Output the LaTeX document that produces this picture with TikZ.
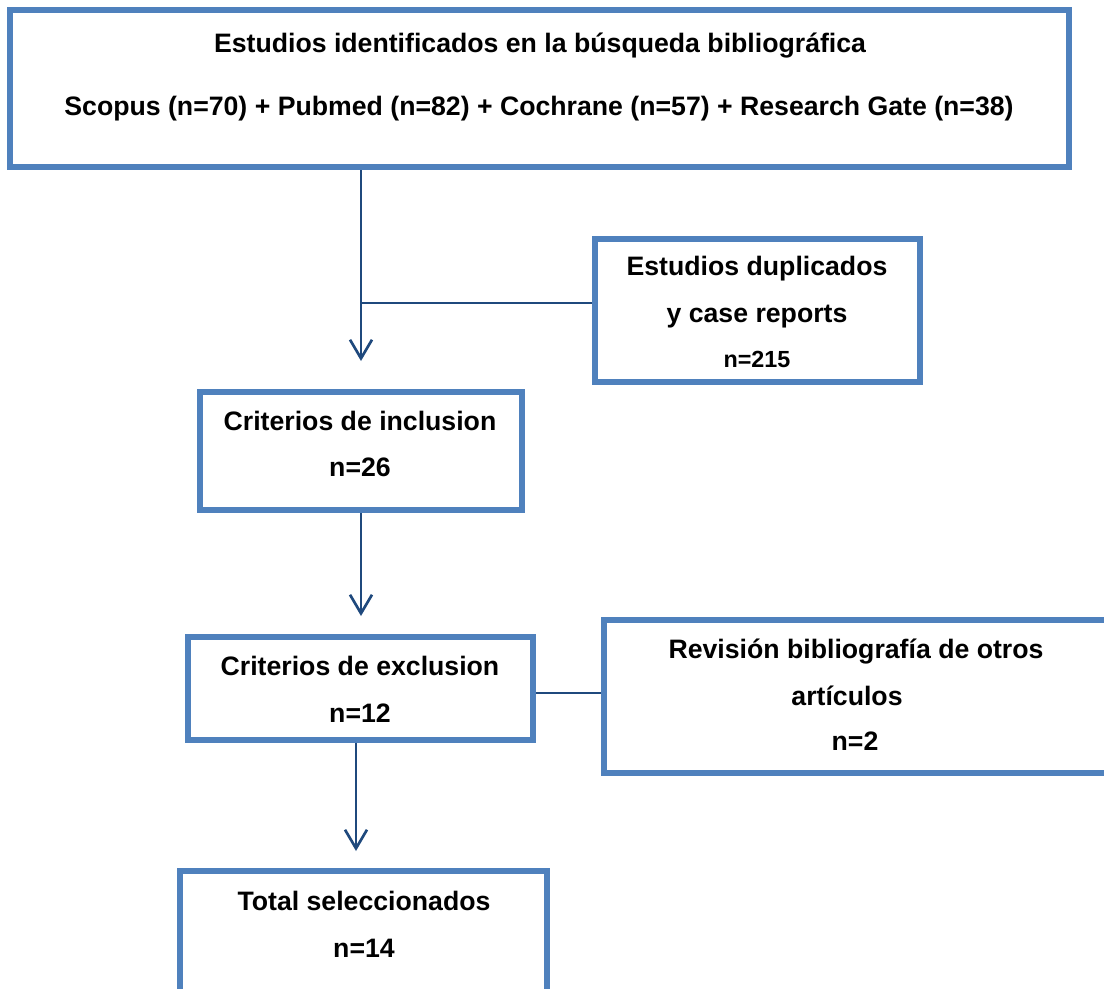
\documentclass[tikz,border=0pt]{standalone}
\usepackage{fontspec}
\setmainfont{Liberation Sans}
\usetikzlibrary{arrows.meta}

\definecolor{boxblue}{RGB}{79,129,189}
\definecolor{lineblue}{RGB}{31,73,125}

\tikzset{
    box/.style={draw=boxblue, line width=4.5pt, rectangle, inner sep=0pt},
    txt/.style={anchor=base, inner sep=0pt, font=\fontsize{20}{24}\selectfont\bfseries},
    small/.style={txt, font=\fontsize{17.5}{21}\selectfont\bfseries},
    conn/.style={draw=lineblue, line width=2pt},
    arr/.style={conn, -{Straight Barb[length=14pt, width=16.5pt]}}
}

\begin{document}
\begin{tikzpicture}[x=0.75pt, y=-0.75pt]
        \useasboundingbox (0,0) rectangle (1104,989);

        \node[box, minimum width=794pt, minimum height=118pt] (ident) at (539.5,88.5) {};
        \node[box, minimum width=244pt, minimum height=107pt] (dup) at (757.5,310.5) {};
        \node[box, minimum width=241.5pt, minimum height=88.5pt] (incl) at (361,451) {};
        \node[box, minimum width=259pt, minimum height=77pt] (excl) at (360.5,688.5) {};
        \node[box, minimum width=378pt, minimum height=115pt] (rev) at (856,696.5) {};
        \node[box, minimum width=275pt, minimum height=97pt] (total) at (363.5,935.5) {};

        \node[txt] (identa) at (540,52) {Estudios identificados en la búsqueda bibliográfica};
        \node[txt] (identb) at (539,115) {Scopus (n=70) + Pubmed (n=82) + Cochrane (n=57) + Research Gate (n=38)};

        \node[txt] (dupa) at (757,275) {Estudios duplicados};
        \node[txt] (dupb) at (757,322) {y case reports};
        \node[small] (dupc) at (757,367) {n=215};

        \node[txt] (incla) at (360,430) {Criterios de inclusion};
        \node[txt] (inclb) at (360,476) {n=26};

        \node[txt] (excla) at (360,675) {Criterios de exclusion};
        \node[txt] (exclb) at (360,722) {n=12};

        \node[txt] (reva) at (856,658) {Revisión bibliografía de otros};
        \node[txt] (revb) at (847,705) {artículos};
        \node[txt] (revc) at (855,750) {n=2};

        \node[txt] (totala) at (364,910) {Total seleccionados};
        \node[txt] (totalb) at (364,957) {n=14};

        \coordinate (t1) at (361,361);
        \coordinate (j1) at (361,303);
        \coordinate (t2) at (361,616);
        \coordinate (t3) at (356,851);
        \coordinate (j2) at (570,693);

        \draw[arr] (ident.south -| t1) -- (t1);
        \draw[conn] (dup.west |- j1) -- (j1);
        \draw[arr] (incl.south -| t2) -- (t2);
        \draw[arr] (excl.south -| t3) -- (t3);
        \draw[conn] (excl.east |- j2) -- (rev.west |- j2);

    \end{tikzpicture}
\end{document}
